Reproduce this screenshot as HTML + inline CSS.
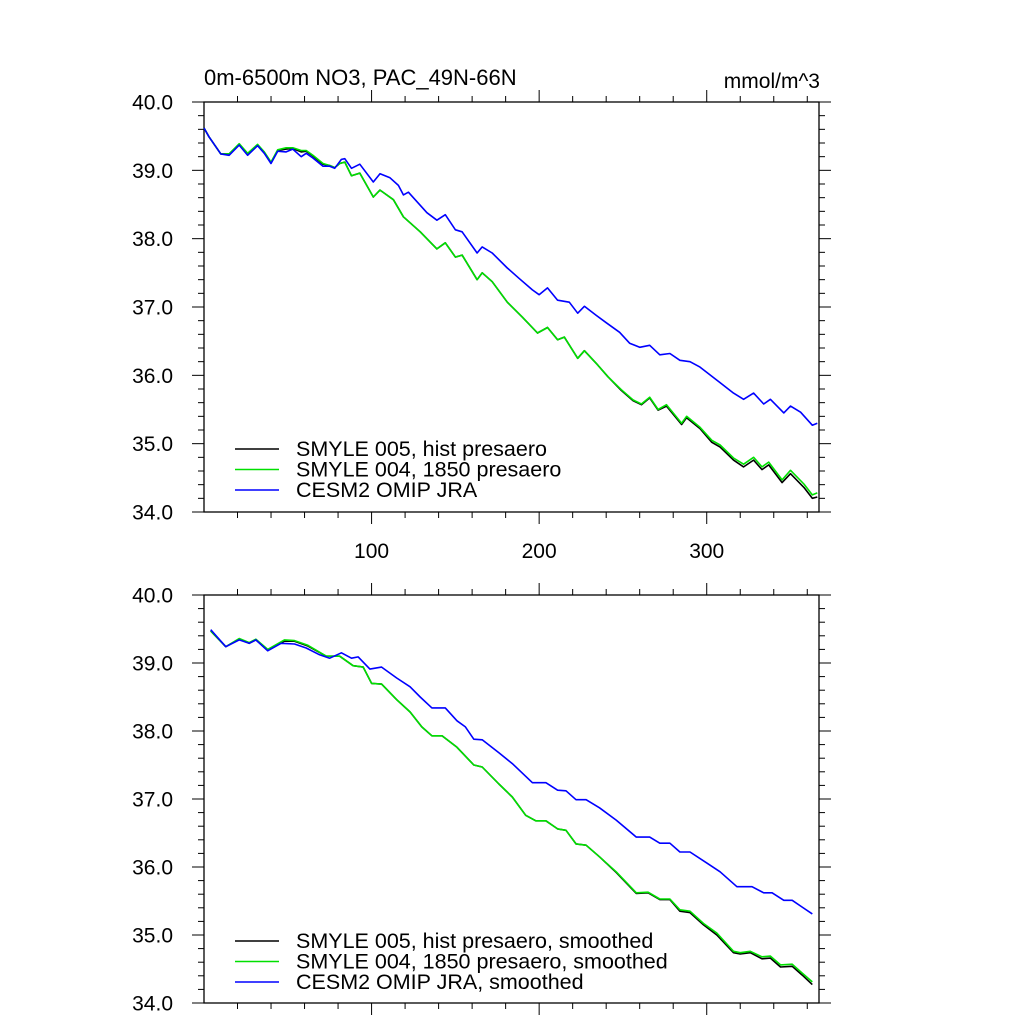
<!DOCTYPE html>
<html><head><meta charset="utf-8"><style>
html,body{margin:0;padding:0;background:#fff;}
svg text{font-family:"Liberation Sans",sans-serif;fill:#000;}
</style></head><body>
<svg id="chart" width="1024" height="1024" viewBox="0 0 1024 1024" xmlns="http://www.w3.org/2000/svg">
<rect width="1024" height="1024" fill="#fff"/>
<text x="204" y="85" font-size="22">0m-6500m NO3, PAC_49N-66N</text>
<text x="820" y="88" font-size="21" text-anchor="end">mmol/m^3</text>
<g id="top"></g>
<g id="bot"></g>
</svg>
<script>
const yTicks = [34, 35, 36, 37, 38, 39, 40];
const yTickLabels = ["34.0","35.0","36.0","37.0","38.0","39.0","40.0"];
const xTicks = [100, 200, 300];
const xTickLabels = ["100","200","300"];

const topBlueX = [0,3,10,15,21,26,32,36,40,44,49,53,58,61,65,71,75,78,82,84,88,93,101,105,111,116,119,122,133,139,144,150,154,163,166,172,181,188,196,200,205,211,218,223,227,234,240,248,254,260,266,272,278,284,290,296,306,316,322,328,334,338,346,350,356,363,366];
const topBlue = [39.62,39.49,39.24,39.22,39.37,39.22,39.36,39.25,39.1,39.28,39.27,39.31,39.2,39.25,39.18,39.06,39.06,39.03,39.16,39.17,39.03,39.09,38.83,38.95,38.89,38.78,38.64,38.68,38.38,38.27,38.35,38.13,38.1,37.79,37.88,37.79,37.57,37.42,37.25,37.18,37.28,37.1,37.07,36.91,37.01,36.88,36.77,36.63,36.47,36.41,36.44,36.3,36.32,36.22,36.2,36.12,35.93,35.74,35.65,35.74,35.58,35.65,35.45,35.55,35.46,35.27,35.3];
const topGreenX = [0,3,10,15,21,26,32,36,40,44,49,53,58,61,65,71,75,78,81,84,88,93,101,105,113,119,129,139,144,150,154,163,166,172,181,190,199,205,211,215,223,227,235,241,249,256,261,266,271,276,285,288,296,303,308,316,322,328,333,337,345,350,358,363,366];
const topGreen = [39.62,39.49,39.24,39.24,39.39,39.25,39.38,39.27,39.12,39.3,39.33,39.33,39.29,39.29,39.22,39.1,39.07,39.04,39.1,39.12,38.92,38.96,38.61,38.71,38.57,38.32,38.1,37.85,37.94,37.73,37.76,37.4,37.5,37.37,37.07,36.85,36.62,36.7,36.52,36.56,36.25,36.36,36.15,35.98,35.79,35.64,35.58,35.68,35.5,35.57,35.3,35.4,35.24,35.05,34.98,34.79,34.7,34.8,34.66,34.73,34.47,34.61,34.41,34.25,34.28];
const topBlack = [39.62,39.49,39.24,39.24,39.38,39.24,39.37,39.26,39.11,39.29,39.31,39.32,39.27,39.28,39.21,39.09,39.07,39.04,39.1,39.12,38.92,38.96,38.61,38.71,38.57,38.32,38.1,37.85,37.94,37.73,37.76,37.4,37.5,37.37,37.07,36.85,36.62,36.7,36.52,36.56,36.25,36.36,36.15,35.98,35.78,35.63,35.57,35.67,35.49,35.55,35.28,35.38,35.22,35.02,34.95,34.76,34.66,34.76,34.62,34.69,34.43,34.56,34.36,34.2,34.22];

const botBlueX = [4,13,21,27,31,38,46,54,61,69,75,82,88,92,99,106,115,123,129,136,144,151,156,161,166,176,184,196,204,211,216,222,228,236,246,258,266,272,278,284,290,300,308,318,327,334,339,346,351,357,363];
const botBlue = [39.49,39.24,39.34,39.29,39.34,39.18,39.29,39.28,39.22,39.12,39.07,39.15,39.07,39.09,38.91,38.94,38.78,38.65,38.5,38.34,38.34,38.15,38.06,37.88,37.87,37.68,37.52,37.24,37.24,37.13,37.12,36.99,36.99,36.87,36.69,36.44,36.44,36.35,36.35,36.22,36.22,36.06,35.93,35.71,35.71,35.62,35.62,35.51,35.51,35.41,35.31];
const botGreenX = [4,13,21,27,31,38,48,54,62,73,81,89,95,100,106,115,123,130,136,142,151,161,166,176,184,192,198,204,211,216,222,228,236,246,258,265,272,278,284,290,298,306,316,320,326,333,338,344,351,357,363];
const botGreen = [39.47,39.24,39.36,39.3,39.35,39.2,39.34,39.33,39.26,39.1,39.1,38.96,38.94,38.7,38.69,38.46,38.28,38.06,37.93,37.93,37.76,37.5,37.47,37.22,37.03,36.76,36.68,36.68,36.56,36.54,36.34,36.32,36.15,35.93,35.62,35.63,35.53,35.53,35.37,35.35,35.17,35.03,34.76,34.74,34.76,34.68,34.69,34.56,34.57,34.44,34.31];
const botBlack = [39.47,39.24,39.35,39.29,39.34,39.19,39.32,39.32,39.25,39.1,39.1,38.96,38.94,38.7,38.69,38.46,38.28,38.06,37.93,37.93,37.76,37.5,37.47,37.22,37.03,36.76,36.68,36.68,36.56,36.54,36.34,36.32,36.15,35.92,35.61,35.62,35.52,35.52,35.35,35.33,35.15,35.0,34.74,34.72,34.74,34.65,34.66,34.53,34.54,34.41,34.27];

const topLegend = ["SMYLE 005, hist presaero","SMYLE 004, 1850 presaero","CESM2 OMIP JRA"];
const botLegend = ["SMYLE 005, hist presaero, smoothed","SMYLE 004, 1850 presaero, smoothed","CESM2 OMIP JRA, smoothed"];
const colors = ["#000000","#00e000","#0000ff"];

const NS = "http://www.w3.org/2000/svg";
function mk(parent, tag, attrs){const e=document.createElementNS(NS,tag);for(const k in attrs)e.setAttribute(k,attrs[k]);parent.appendChild(e);return e;}

function panel(g, top, bottom, showXLabels, series, legend, legY){
  const L=204, R=819, xMin=0, xMax=367, yMin=34, yMax=40;
  const sx=v=>L+(v-xMin)/(xMax-xMin)*(R-L);
  const sy=v=>bottom-(v-yMin)/(yMax-yMin)*(bottom-top);
  const fr=mk(g,'rect',{x:L,y:top,width:R-L,height:bottom-top,fill:'none',stroke:'#000','stroke-width':1.3});
  
  
  for(let i=0;i<=30;i++){
    const v=yMin+i*0.2, major=(i%5===0), y=sy(v), len=major?12:6;
    const a=mk(g,'line',{x1:L-len,x2:L,y1:y,y2:y,stroke:'#000','stroke-width':1});
    
    
    const b=mk(g,'line',{x1:R,x2:R+len,y1:y,y2:y,stroke:'#000','stroke-width':1});
    
    
  }
  yTicks.forEach((v,i)=>{
    const t=mk(g,'text',{x:L-31,y:sy(v)+7.5,'font-size':21,'text-anchor':'end'});
    t.textContent=yTickLabels[i];
    
    
  });
  for(let v=20; v<xMax; v+=20){
    const major=(v%100===0), x=sx(v), len=major?12:6;
    const a=mk(g,'line',{x1:x,x2:x,y1:top-len,y2:top,stroke:'#000','stroke-width':1});
    
    
    const b=mk(g,'line',{x1:x,x2:x,y1:bottom,y2:bottom+len,stroke:'#000','stroke-width':1});
    
    
  }
  if(showXLabels){
    xTicks.forEach((v,i)=>{
      const t=mk(g,'text',{x:sx(v),y:bottom+46,'font-size':21,'text-anchor':'middle'});
      t.textContent=xTickLabels[i];
      
      
    });
  }
  series.forEach((s,k)=>{
    const pts=s.x.map((xv,i)=>sx(xv).toFixed(1)+','+sy(s.y[i]).toFixed(1)).join(' ');
    const p=mk(g,'polyline',{points:pts,fill:'none',stroke:s.c,'stroke-width':1.6,'stroke-linejoin':'round'});
    
    
  });
  legend.forEach((lab,i)=>{
    const y=legY+i*20.5;
    const l=mk(g,'line',{x1:235,x2:279,y1:y,y2:y,stroke:colors[i],'stroke-width':1.6});
    
    
    const t=mk(g,'text',{x:296,y:y+7,'font-size':21.5});
    t.textContent=lab;
    
    
  });
}

panel(document.getElementById('top'),102,512,true,[
  {x:topGreenX,y:topBlack,c:colors[0],name:'series-smyle005'},
  {x:topGreenX,y:topGreen,c:colors[1],name:'series-smyle004'},
  {x:topBlueX,y:topBlue,c:colors[2],name:'series-cesm2-omip'}
],topLegend,449);
panel(document.getElementById('bot'),595,1003,false,[
  {x:botGreenX,y:botBlack,c:colors[0],name:'series-smyle005-smoothed'},
  {x:botGreenX,y:botGreen,c:colors[1],name:'series-smyle004-smoothed'},
  {x:botBlueX,y:botBlue,c:colors[2],name:'series-cesm2-omip-smoothed'}
],botLegend,941);
</script>
</body></html>
